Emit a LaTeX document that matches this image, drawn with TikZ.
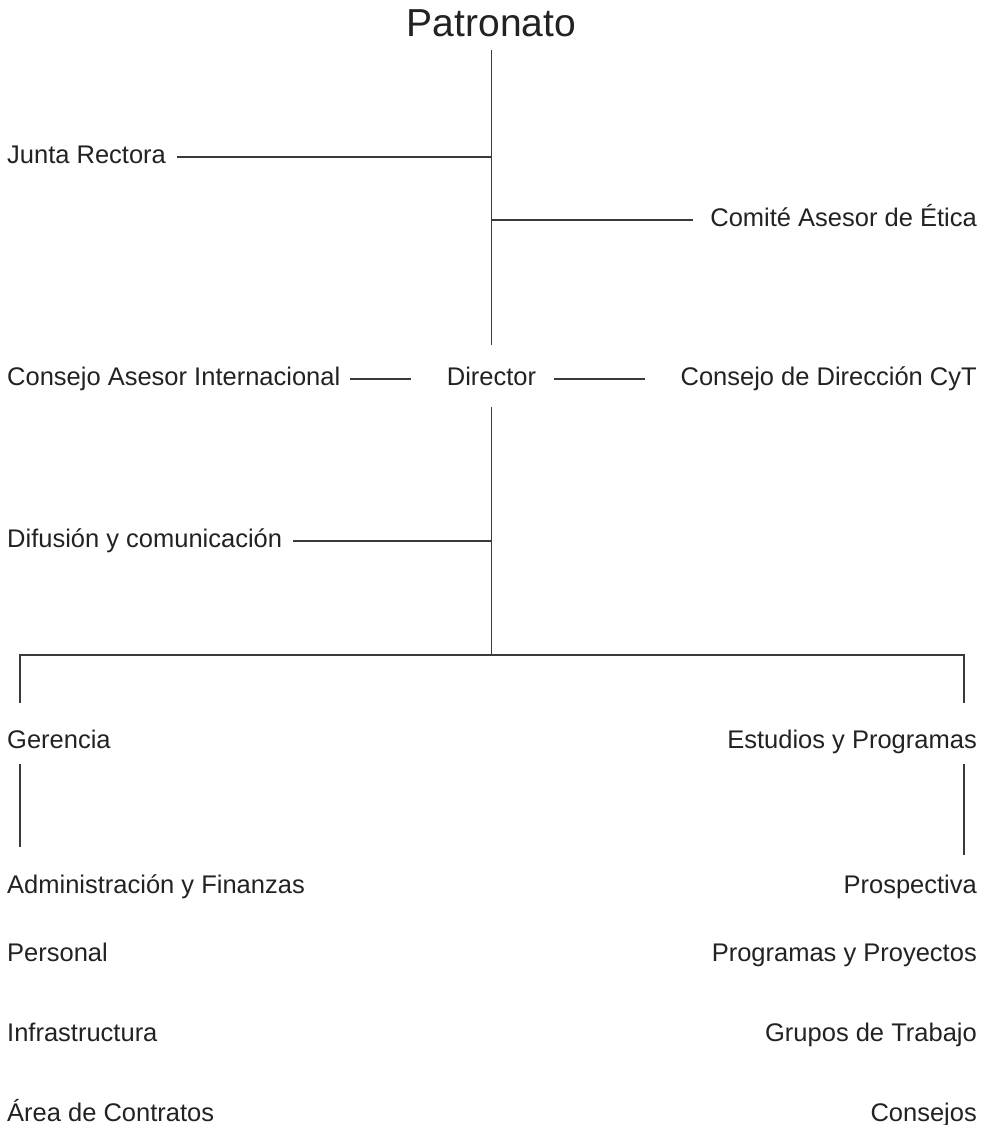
\documentclass[tikz,border=0pt]{standalone}
\usepackage{fontspec}
\setmainfont{Liberation Sans}
\usetikzlibrary{calc}
\definecolor{txt}{HTML}{222222}
\definecolor{ln}{HTML}{3A3A3A}
\begin{document}
\begin{tikzpicture}[x=1pt,y=-1pt,
  lab/.style={font=\fontsize{25.5}{30}\selectfont, text=txt, inner sep=0pt},
  conn/.style={draw=ln, line width=1.3pt}]
\useasboundingbox (0,0) rectangle (986,1125);
% nodes (baselines)
\node[lab, font=\fontsize{39}{46}\selectfont, anchor=base] (pat) at (491.5,36) {Patronato};
\node[lab, anchor=base west] (jr) at (7,163.5) {Junta Rectora};
\node[lab, anchor=base east] (cae) at (977,226.5) {Comité Asesor de Ética};
\node[lab, anchor=base west] (cai) at (7,385.5) {Consejo Asesor Internacional};
\node[lab, anchor=base] (dir) at (491.5,385.5) {Director};
\node[lab, anchor=base east] (cdc) at (977,385.5) {Consejo de Dirección CyT};
\node[lab, anchor=base west] (dif) at (7,547.5) {Difusión y comunicación};
\node[lab, anchor=base west] (ger) at (7,748.5) {Gerencia};
\node[lab, anchor=base east] (est) at (977,748.5) {Estudios y Programas};
\node[lab, anchor=base west] (adm) at (7,893.5) {Administración y Finanzas};
\node[lab, anchor=base west] (per) at (7,961) {Personal};
\node[lab, anchor=base west] (inf) at (7,1041.5) {Infrastructura};
\node[lab, anchor=base west] (are) at (7,1121.5) {Área de Contratos};
\node[lab, anchor=base east] (pro) at (977,893.5) {Prospectiva};
\node[lab, anchor=base east] (pyp) at (977,961) {Programas y Proyectos};
\node[lab, anchor=base east] (gdt) at (977,1041.5) {Grupos de Trabajo};
\node[lab, anchor=base east] (con) at (977,1121.5) {Consejos};
% junction coordinates
\coordinate (ptop) at (491.5,50);
\coordinate (pbot) at (491.5,345);
\coordinate (jj) at (491.5,157);
\coordinate (jc) at (491.5,220);
\coordinate (dc) at (491.5,379);
\coordinate (dtop) at (491.5,407);
\coordinate (jd) at (491.5,541);
\coordinate (jh) at (491.5,655);
\coordinate (hl) at (20,655);
\coordinate (hr) at (964,655);
\coordinate (gl) at (20,703);
\coordinate (gr) at (964,703);
\coordinate (al) at (20,764);
\coordinate (ab) at (20,847);
\coordinate (ar) at (964,764);
\coordinate (pb) at (964,855);
% connectors
\draw[conn] (ptop) -- (pbot);
\draw[conn] ($(jr.east |- jj)+(11,0)$) -- (jj);
\draw[conn] (jc) -- ($(cae.west |- jc)+(-17,0)$);
\draw[conn] ($(cai.east |- dc)+(9,0)$) -- ($(dir.west |- dc)+(-36,0)$);
\draw[conn] ($(dir.east |- dc)+(18,0)$) -- ($(cdc.west |- dc)+(-35,0)$);
\draw[conn] (dtop) -- (jh);
\draw[conn] ($(dif.east |- jd)+(11,0)$) -- (jd);
\draw[conn] (gl) -- (hl) -- (hr) -- (gr);
\draw[conn] (al) -- (ab);
\draw[conn] (ar) -- (pb);
\end{tikzpicture}
\end{document}
